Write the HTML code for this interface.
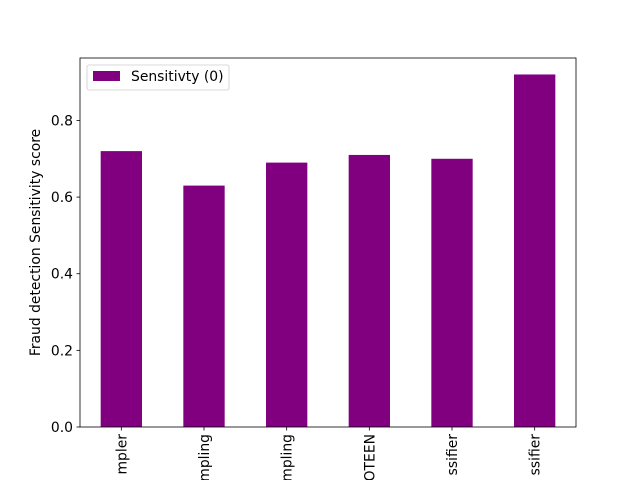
<!DOCTYPE html>
<html><head><meta charset="utf-8"><style>html,body{margin:0;background:#fff;overflow:hidden;width:640px;height:480px}svg{display:block;font-family:"DejaVu Sans","Liberation Sans",sans-serif}</style></head>
<body>
<svg id="c" width="640" height="480" viewBox="0 0 640 480" overflow="hidden"></svg>
<script>
const categories=["mpler","mpling","mpling","OTEEN","ssifier","ssifier"];
const values=[0.72,0.63,0.69,0.71,0.70,0.92];
const yTicks=[0,0.2,0.4,0.6,0.8];
const yTickLabels=["0.0","0.2","0.4","0.6","0.8"];
const svg=document.getElementById('c');
const NS='http://www.w3.org/2000/svg';
const L=80,R=576,T=58,B=427,yMax=0.963;
const y=v=>B-(v/yMax)*(B-T);
const step=(R-L)/categories.length;
const x=i=>L+step*(i+0.5);
function mk(t,a){const e=document.createElementNS(NS,t);for(const k in a)e.setAttribute(k,a[k]);svg.appendChild(e);return e;}
values.forEach((v,i)=>{
 const r=mk('rect',{x:x(i)-step*0.25,y:y(v),width:step*0.5,height:B-y(v),fill:'#800080'});
 
 
 const tk=mk('line',{x1:x(i),x2:x(i),y1:B,y2:B+3.5,stroke:'#000','stroke-width':0.8});
 
 
 const t=mk('text',{x:0,y:0,'font-size':13.9,'text-anchor':'end',transform:`translate(${x(i)+5},${B+7}) rotate(-90)`});
 t.textContent=categories[i];
 
 
});
yTicks.forEach((v,i)=>{
 const tk=mk('line',{x1:L-3.5,x2:L,y1:y(v),y2:y(v),stroke:'#000','stroke-width':0.8});
 
 
 const t=mk('text',{x:L-7,y:y(v)+5,'font-size':13.9,'text-anchor':'end'});
 t.textContent=yTickLabels[i];
 
 
});
const fr=mk('rect',{x:L,y:T,width:R-L,height:B-T,fill:'none',stroke:'#000','stroke-width':0.8});


const yl=mk('text',{x:0,y:0,'font-size':13.9,'text-anchor':'middle',transform:`translate(40,${(T+B)/2}) rotate(-90)`});
yl.textContent='Fraud detection Sensitivity score';


const lg=mk('rect',{x:87,y:65,width:142,height:25,rx:2,fill:'#fff','fill-opacity':0.8,stroke:'#ccc','stroke-width':0.8});


const lp=mk('rect',{x:93,y:71,width:27,height:10,fill:'#800080'});


const lt=mk('text',{x:131,y:81,'font-size':13.9});
lt.textContent='Sensitivty (0)';


</script>
</body></html>
